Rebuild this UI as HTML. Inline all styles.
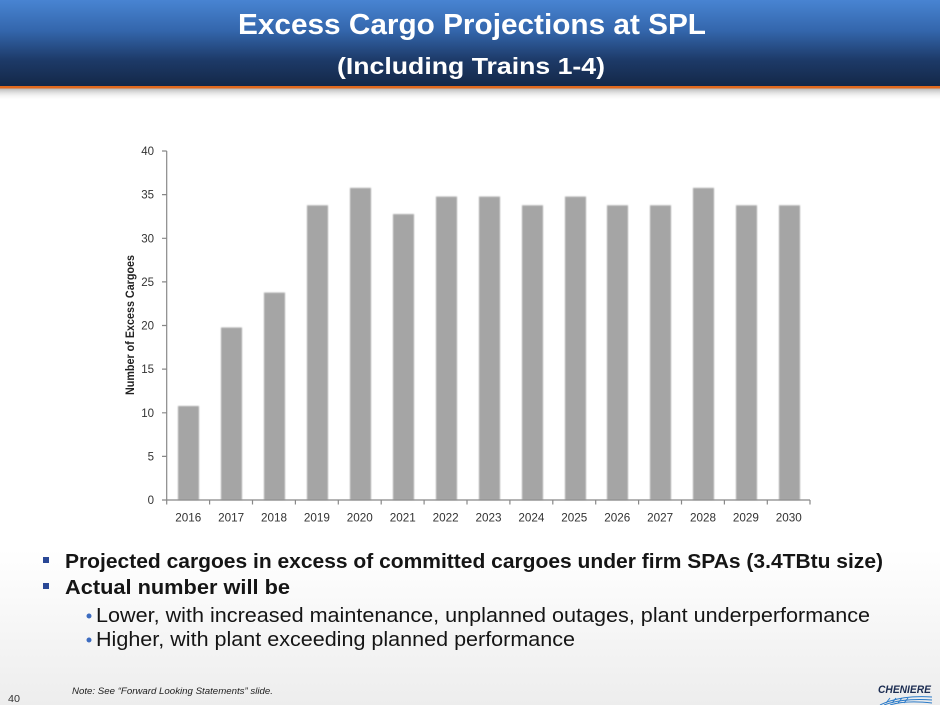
<!DOCTYPE html>
<html><head><meta charset="utf-8"><style>
html,body{margin:0;padding:0;background:#fff;}
svg{display:block;}
</style></head><body>
<svg width="940" height="705" viewBox="0 0 940 705" xmlns="http://www.w3.org/2000/svg">
<defs>
<linearGradient id="bg" x1="0" y1="0" x2="0" y2="1">
<stop offset="0" stop-color="#ffffff"/><stop offset="0.78" stop-color="#ffffff"/><stop offset="1" stop-color="#ededed"/>
</linearGradient>
<linearGradient id="hd" x1="0" y1="0" x2="0" y2="1">
<stop offset="0" stop-color="#4884d2"/><stop offset="0.35" stop-color="#3467ad"/><stop offset="0.7" stop-color="#1d3a68"/><stop offset="1" stop-color="#142848"/>
</linearGradient>
<linearGradient id="sh" x1="0" y1="0" x2="0" y2="1">
<stop offset="0" stop-color="#b8b8b8"/><stop offset="1" stop-color="#ffffff" stop-opacity="0"/>
</linearGradient>
<filter id="bl" x="-20%" y="-5%" width="140%" height="110%"><feGaussianBlur stdDeviation="0.8"/></filter>
</defs>
<rect width="940" height="705" fill="url(#bg)"/>
<rect x="0" y="0" width="940" height="86" fill="url(#hd)"/>
<rect x="0" y="86" width="940" height="2.5" fill="#e2691d"/>
<rect x="0" y="88.5" width="940" height="12" fill="url(#sh)"/>
<g font-family="Liberation Sans, sans-serif" font-weight="bold" fill="#ffffff">
<text x="238" y="34" font-size="29" textLength="468" lengthAdjust="spacingAndGlyphs">Excess Cargo Projections at SPL</text>
<text x="337" y="74" font-size="23" textLength="268" lengthAdjust="spacingAndGlyphs">(Including Trains 1-4)</text>
</g>

<!-- chart -->
<g filter="url(#bl)" fill="#a5a5a5">
<rect x="178" y="406" width="21" height="94"/>
<rect x="221" y="327.5" width="21" height="172.5"/>
<rect x="264" y="292.6" width="21" height="207.4"/>
<rect x="307" y="205.3" width="21" height="294.7"/>
<rect x="350" y="187.9" width="21" height="312.1"/>
<rect x="393" y="214.1" width="21" height="285.9"/>
<rect x="436" y="196.6" width="21" height="303.4"/>
<rect x="479" y="196.6" width="21" height="303.4"/>
<rect x="522" y="205.3" width="21" height="294.7"/>
<rect x="565" y="196.6" width="21" height="303.4"/>
<rect x="607" y="205.3" width="21" height="294.7"/>
<rect x="650" y="205.3" width="21" height="294.7"/>
<rect x="693" y="187.9" width="21" height="312.1"/>
<rect x="736" y="205.3" width="21" height="294.7"/>
<rect x="779" y="205.3" width="21" height="294.7"/>
</g>
<g stroke="#888888" stroke-width="1.2" fill="none">
<line x1="166.7" y1="151" x2="166.7" y2="500"/>
<line x1="166.7" y1="500" x2="810" y2="500"/>
<path d="M162,151H166.7M162,194.6H166.7M162,238.3H166.7M162,281.9H166.7M162,325.5H166.7M162,369.1H166.7M162,412.8H166.7M162,456.4H166.7M162,500H166.7"/>
<path d="M166.7,500V504.5M209.6,500V504.5M252.5,500V504.5M295.4,500V504.5M338.3,500V504.5M381.2,500V504.5M424.1,500V504.5M467,500V504.5M509.9,500V504.5M552.8,500V504.5M595.7,500V504.5M638.6,500V504.5M681.5,500V504.5M724.4,500V504.5M767.3,500V504.5M810,500V504.5"/>
</g>
<g font-family="Liberation Sans, sans-serif" font-size="11.5" fill="#333333" text-anchor="end">
<text x="154" y="155">40</text>
<text x="154" y="198.6">35</text>
<text x="154" y="242.3">30</text>
<text x="154" y="285.9">25</text>
<text x="154" y="329.5">20</text>
<text x="154" y="373.1">15</text>
<text x="154" y="416.8">10</text>
<text x="154" y="460.4">5</text>
<text x="154" y="504">0</text>
</g>
<g font-family="Liberation Sans, sans-serif" font-size="11.7" fill="#333333" text-anchor="middle">
<text x="188.2" y="521.5">2016</text>
<text x="231.1" y="521.5">2017</text>
<text x="274" y="521.5">2018</text>
<text x="316.9" y="521.5">2019</text>
<text x="359.8" y="521.5">2020</text>
<text x="402.7" y="521.5">2021</text>
<text x="445.6" y="521.5">2022</text>
<text x="488.5" y="521.5">2023</text>
<text x="531.4" y="521.5">2024</text>
<text x="574.3" y="521.5">2025</text>
<text x="617.2" y="521.5">2026</text>
<text x="660.1" y="521.5">2027</text>
<text x="703" y="521.5">2028</text>
<text x="745.9" y="521.5">2029</text>
<text x="788.8" y="521.5">2030</text>
</g>
<text transform="translate(134,325) rotate(-90)" x="-70" y="0" font-family="Liberation Sans, sans-serif" font-size="11.5" font-weight="bold" fill="#222222" textLength="140" lengthAdjust="spacingAndGlyphs">Number of Excess Cargoes</text>

<!-- bullets -->
<rect x="43" y="557" width="6" height="6" fill="#2a4896"/>
<rect x="43" y="583" width="6" height="6" fill="#2a4896"/>
<circle cx="89" cy="616" r="2.5" fill="#3d6cc0"/>
<circle cx="89" cy="640" r="2.5" fill="#3d6cc0"/>
<g font-family="Liberation Sans, sans-serif" fill="#151515">
<text x="65" y="568" font-size="20.5" font-weight="bold" textLength="818" lengthAdjust="spacingAndGlyphs">Projected cargoes in excess of committed cargoes under firm SPAs (3.4TBtu size)</text>
<text x="65" y="594" font-size="20.5" font-weight="bold" textLength="225" lengthAdjust="spacingAndGlyphs">Actual number will be</text>
<text x="96" y="622" font-size="20" textLength="774" lengthAdjust="spacingAndGlyphs">Lower, with increased maintenance, unplanned outages, plant underperformance</text>
<text x="96" y="646" font-size="20" textLength="479" lengthAdjust="spacingAndGlyphs">Higher, with plant exceeding planned performance</text>
</g>
<text x="72" y="694" font-family="Liberation Sans, sans-serif" font-size="9.5" font-style="italic" fill="#222" textLength="201" lengthAdjust="spacingAndGlyphs">Note: See “Forward Looking Statements” slide.</text>
<text x="8" y="702" font-family="Liberation Sans, sans-serif" font-size="10" fill="#333" textLength="12" lengthAdjust="spacingAndGlyphs">40</text>

<!-- logo -->
<text x="878" y="693" font-family="Liberation Sans, sans-serif" font-size="11" font-weight="bold" font-style="italic" fill="#1c2d52" textLength="53" lengthAdjust="spacingAndGlyphs">CHENIERE</text>
<g stroke="#2a7ac8" stroke-width="1" fill="none">
<path d="M880,705 Q900,695 932,697"/>
<path d="M884,705 Q902,698 932,700"/>
<path d="M890,705 Q906,700 932,703"/>
<path d="M886,703 L890,698 M892,703 L896,698 M898,703 L902,698 M904,703 L908,698"/>
</g>
</svg>
</body></html>
